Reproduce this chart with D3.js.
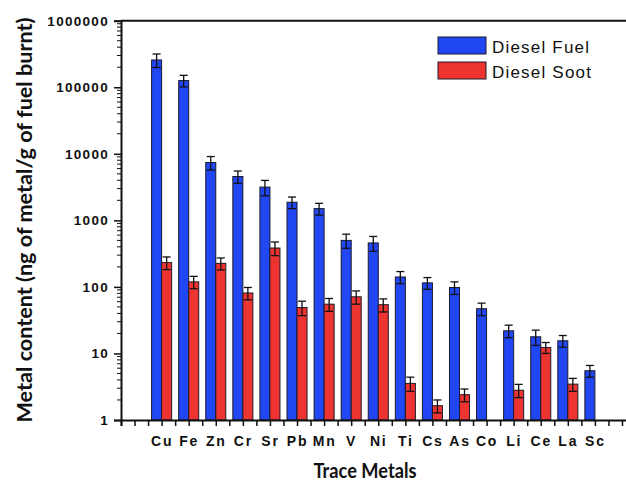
<!DOCTYPE html>
<html>
<head>
<meta charset="utf-8">
<script src="https://cdn.jsdelivr.net/npm/d3@7"></script>
<style>
  html, body { margin: 0; padding: 0; background: #fff; }
  svg { display: block; }
</style>
</head>
<body>
<svg id="chart" width="626" height="481"></svg>
<script>
// Trace metal content of diesel fuel and diesel soot (ng of metal / g of fuel burnt)
const metals = ["Cu","Fe","Zn","Cr","Sr","Pb","Mn","V","Ni","Ti","Cs","As","Co","Li","Ce","La","Sc"];
const fuel    = [257000, 126000, 7400, 4560, 3160, 1870, 1500, 500, 458, 141, 115, 98, 47, 21.9, 17.8, 15.5, 5.5];
const fuelErr = [59000, 25000, 1700, 950, 820, 370, 300, 120, 115, 29, 23, 21, 10, 4.7, 4.6, 3.1, 1.1];
const soot    = [232, 119, 226, 81, 384, 49, 55, 71, 54, 3.55, 1.64, 2.4, null, 2.8, 12.3, 3.46, null];
const sootErr = [50, 25, 46, 17, 89, 12, 12, 16, 12, 0.85, 0.36, 0.52, null, 0.63, 2.3, 0.76, null];
const yTicks = [1, 10, 100, 1000, 10000, 100000, 1000000];
const seriesNames = ["Diesel Fuel", "Diesel Soot"];
const seriesColors = ["#2146f3", "#ee3431"];

const svg = d3.select("#chart");
const plotLeft = 121, plotTop = 20.7, plotBottom = 420;
const step = 27.08;

// category index -> pixel (linear, so half-step minor ticks can be drawn)
const x = d3.scaleLinear().domain([-1.5, 17.5]).range([plotLeft, plotLeft + 19 * step]);
const y = d3.scaleLog().domain([1, 1e6]).range([plotBottom, plotTop]);
const barW = step * 0.37;

// bars
const g = svg.append("g");
function drawSeries(vals, errs, idx) {
  const data = vals.map((v, i) => ({ i, v, e: errs[i] })).filter(d => d.v != null);
  const off = idx === 0 ? -barW : 0;
  g.selectAll(null).data(data).enter().append("rect")
    .attr("x", d => x(d.i) + off)
    .attr("y", d => y(d.v))
    .attr("width", barW)
    .attr("height", d => plotBottom - y(d.v))
    .attr("fill", seriesColors[idx])
    .attr("stroke", "#1a1a2a")
    .attr("stroke-width", 1);
  // error bars
  const eg = g.selectAll(null).data(data).enter().append("g")
    .attr("stroke", "#111").attr("stroke-width", 1.3);
  const cx = d => x(d.i) + off + barW / 2;
  const cap = 4;
  const lo = d => y(Math.max(d.v - d.e, 1.0001));
  const hi = d => y(d.v + d.e);
  eg.append("line").attr("x1", cx).attr("x2", cx).attr("y1", hi).attr("y2", lo);
  eg.append("line").attr("x1", d => cx(d) - cap).attr("x2", d => cx(d) + cap).attr("y1", hi).attr("y2", hi);
  eg.append("line").attr("x1", d => cx(d) - cap).attr("x2", d => cx(d) + cap).attr("y1", lo).attr("y2", lo);
}
drawSeries(fuel, fuelErr, 0);
drawSeries(soot, sootErr, 1);

// top frame line
svg.append("line").attr("x1", plotLeft).attr("x2", 640).attr("y1", plotTop).attr("y2", plotTop)
  .attr("stroke", "#111").attr("stroke-width", 2);

// y axis (log) with minor ticks
const yAxis = d3.axisLeft(y).tickValues(yTicks).tickFormat(d3.format("d")).tickSize(7).tickPadding(5);
const ya = svg.append("g").attr("transform", `translate(${plotLeft},0)`).call(yAxis);
ya.select(".domain").attr("stroke", "#111").attr("stroke-width", 2);
ya.selectAll(".tick line").attr("stroke", "#111").attr("stroke-width", 1.5);
ya.selectAll(".tick text")
  .attr("font-family", "'Liberation Sans', Arial, sans-serif")
  .attr("font-weight", "bold").attr("font-size", 13.5)
  .attr("letter-spacing", 1.3).attr("fill", "#111");
const minor = [];
for (let dec = 1; dec < 1e6; dec *= 10) for (let k = 2; k <= 9; k++) minor.push(dec * k);
svg.append("g").selectAll("line").data(minor).enter().append("line")
  .attr("x1", plotLeft - 4).attr("x2", plotLeft)
  .attr("y1", d => y(d)).attr("y2", d => y(d))
  .attr("stroke", "#111").attr("stroke-width", 1);

// x axis: ticks every half category, labels at category centres
const xTickVals = d3.range(-1.5, 17.51, 0.5);
const xAxis = d3.axisBottom(x).tickValues(xTickVals)
  .tickFormat(d => (Number.isInteger(d) && d >= 0 && d < metals.length) ? metals[d] : "")
  .tickSize(6).tickPadding(10);
const xa = svg.append("g").attr("transform", `translate(0,${plotBottom})`).call(xAxis);
xa.select(".domain").attr("stroke", "#111").attr("stroke-width", 2);
xa.selectAll(".tick line").attr("stroke", "#111").attr("stroke-width", 1.5);
xa.selectAll(".tick text")
  .attr("font-family", "'Liberation Sans', Arial, sans-serif")
  .attr("font-weight", "bold").attr("font-size", 14)
  .attr("letter-spacing", 1.8).attr("fill", "#111");

// axis titles
svg.append("text")
  .attr("transform", "translate(32,220) rotate(-90)")
  .attr("text-anchor", "middle")
  .attr("font-family", "Lato, 'Open Sans', sans-serif").attr("font-weight", "bold")
  .attr("font-size", 20).attr("fill", "#111")
  .attr("textLength", 405).attr("lengthAdjust", "spacingAndGlyphs")
  .text("Metal content (ng of metal/g of fuel burnt)");
svg.append("text")
  .attr("x", 365).attr("y", 478)
  .attr("text-anchor", "middle")
  .attr("font-family", "Lato, 'Open Sans', sans-serif").attr("font-weight", "bold")
  .attr("font-size", 20).attr("fill", "#111")
  .attr("textLength", 103).attr("lengthAdjust", "spacingAndGlyphs")
  .text("Trace Metals");

// legend
const lg = svg.append("g").attr("transform", "translate(438,37)");
seriesNames.forEach((name, i) => {
  lg.append("rect").attr("x", 0).attr("y", i * 25).attr("width", 48).attr("height", 17)
    .attr("fill", seriesColors[i]).attr("stroke", "#1a1a2a").attr("stroke-width", 1);
  lg.append("text").attr("x", 54).attr("y", i * 25 + 16)
    .attr("font-family", "'Liberation Sans', Arial, sans-serif")
    .attr("font-size", 17).attr("letter-spacing", 1.2).attr("fill", "#111")
    .text(name);
});
</script>
</body>
</html>
